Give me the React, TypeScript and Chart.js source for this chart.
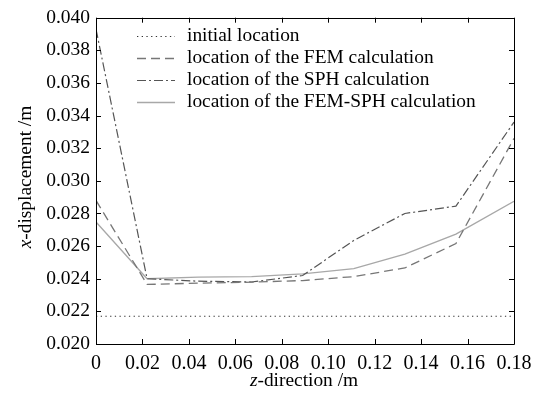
import React, { useEffect, useRef } from "react";
import { Chart, registerables } from "chart.js";

Chart.register(...registerables);

const zPositions = [0, 0.022, 0.044, 0.067, 0.089, 0.111, 0.133, 0.155, 0.18];
const initialZ = [0, 0.18];
const initialX = [0.0217, 0.0217];
const femX = [0.0288, 0.02365, 0.02373, 0.02379, 0.02389, 0.02413, 0.02466, 0.02616, 0.0326];
const sphX = [0.0393, 0.024, 0.02385, 0.0238, 0.0242, 0.02635, 0.028, 0.02845, 0.0336];
const femSphX = [0.02748, 0.0240, 0.0241, 0.02413, 0.0243, 0.02462, 0.02551, 0.02673, 0.02875];
const seriesLabels = [
  "initial location",
  "location of the FEM calculation",
  "location of the SPH calculation",
  "location of the FEM-SPH calculation",
];
const xTickStep = 0.02;
const yTickStep = 0.002;

const FONT = '"Liberation Serif", "Times New Roman", serif';

function pts(xs: number[], ys: number[]) {
  return xs.map((x, i) => ({ x, y: ys[i] }));
}

const decorPlugin = {
  id: "decor",
  afterDraw(chart: any) {
    const ctx = chart.ctx as CanvasRenderingContext2D;
    const { left, right, top, bottom } = chart.chartArea;
    const xs = chart.scales.x;
    const ys = chart.scales.y;
    ctx.save();
    ctx.strokeStyle = "#000";
    ctx.lineWidth = 1;
    ctx.setLineDash([]);
    ctx.beginPath();
    ctx.rect(Math.round(left) + 0.5, Math.round(top) + 0.5, Math.round(right - left), Math.round(bottom - top));
    ctx.stroke();
    const tl = 5;
    ctx.beginPath();
    xs.ticks.forEach((t: any) => {
      const px = Math.round(xs.getPixelForValue(t.value)) + 0.5;
      ctx.moveTo(px, bottom);
      ctx.lineTo(px, bottom - tl);
      ctx.moveTo(px, top);
      ctx.lineTo(px, top + tl);
    });
    ys.ticks.forEach((t: any) => {
      const py = Math.round(ys.getPixelForValue(t.value)) + 0.5;
      ctx.moveTo(left, py);
      ctx.lineTo(left + tl, py);
      ctx.moveTo(right, py);
      ctx.lineTo(right - tl, py);
    });
    ctx.stroke();

    ctx.font = `19.4px ${FONT}`;
    ctx.textBaseline = "middle";
    ctx.textAlign = "left";
    const rowY = [36, 58, 80, 101.5];
    chart.data.datasets.forEach((ds: any, i: number) => {
      const y = Math.round(rowY[i]) + 0.5;
      ctx.strokeStyle = ds.borderColor;
      ctx.lineWidth = ds.borderWidth;
      ctx.setLineDash(ds.borderDash || []);
      ctx.beginPath();
      ctx.moveTo(137, y);
      ctx.lineTo(175, y);
      ctx.stroke();
      ctx.setLineDash([]);
      ctx.fillStyle = "#000";
      ctx.fillText(ds.label, 187, rowY[i]);
    });

    ctx.fillStyle = "#000";
    ctx.textBaseline = "alphabetic";
    const drawMixed = (a: string, b: string, cx: number, cy: number) => {
      ctx.font = `italic 19.4px ${FONT}`;
      const wa = ctx.measureText(a).width;
      ctx.font = `19.4px ${FONT}`;
      const wb = ctx.measureText(b).width;
      const start = cx - (wa + wb) / 2;
      ctx.font = `italic 19.4px ${FONT}`;
      ctx.fillText(a, start, cy);
      ctx.font = `19.4px ${FONT}`;
      ctx.fillText(b, start + wa, cy);
    };
    drawMixed("z", "-direction /m", 304, 386);
    ctx.save();
    ctx.translate(31, 177);
    ctx.rotate(-Math.PI / 2);
    drawMixed("x", "-displacement /m", 0, 0);
    ctx.restore();
    ctx.restore();
  },
};

export default function App() {
  const ref = useRef<HTMLCanvasElement>(null);
  useEffect(() => {
    if (!ref.current) return;
    const chart = new Chart(ref.current, {
      type: "line",
      data: {
        datasets: [
          {
            label: seriesLabels[0],
            data: pts(initialZ, initialX),
            borderColor: "#333",
            borderWidth: 1.2,
            borderDash: [1.3, 3.4],
            pointRadius: 0,
            tension: 0,
          },
          {
            label: seriesLabels[1],
            data: pts(zPositions, femX),
            borderColor: "#777",
            borderWidth: 1.3,
            borderDash: [9, 5],
            pointRadius: 0,
            tension: 0,
          },
          {
            label: seriesLabels[2],
            data: pts(zPositions, sphX),
            borderColor: "#555",
            borderWidth: 1.2,
            borderDash: [9, 3, 2, 3],
            pointRadius: 0,
            tension: 0,
          },
          {
            label: seriesLabels[3],
            data: pts(zPositions, femSphX),
            borderColor: "#a8a8a8",
            borderWidth: 1.4,
            borderDash: [],
            pointRadius: 0,
            tension: 0,
          },
        ],
      },
      options: {
        responsive: false,
        animation: false,
        layout: { padding: { left: 0, top: 15, right: 27, bottom: 0 } },
        plugins: { legend: { display: false }, tooltip: { enabled: false }, title: { display: false } },
        scales: {
          x: {
            type: "linear",
            min: 0,
            max: 0.18,
            afterFit: (s: any) => {
              s.height = 54;
            },
            border: { display: false },
            grid: { display: false, drawTicks: false },
            ticks: {
              stepSize: xTickStep,
              padding: 8,
              color: "#000",
              font: { family: FONT, size: 20 },
              maxRotation: 0,
              autoSkip: false,
              callback: (v: any) => (Math.abs(v) < 1e-9 ? "0" : Number(v).toFixed(2)),
            },
          },
          y: {
            type: "linear",
            min: 0.02,
            max: 0.04,
            afterFit: (s: any) => {
              s.width = 96;
            },
            border: { display: false },
            grid: { display: false, drawTicks: false },
            ticks: {
              stepSize: yTickStep,
              padding: 6,
              color: "#000",
              font: { family: FONT, size: 19.5 },
              autoSkip: false,
              callback: (v: any) => Number(v).toFixed(3),
            },
          },
        },
      },
      plugins: [decorPlugin],
    } as any);
    return () => chart.destroy();
  }, []);
  return (
    <div style={{ position: "absolute", left: 0, top: 0, width: 541, height: 398, background: "#fff" }}>
      <canvas ref={ref} width={541} height={398} />
    </div>
  );
}
